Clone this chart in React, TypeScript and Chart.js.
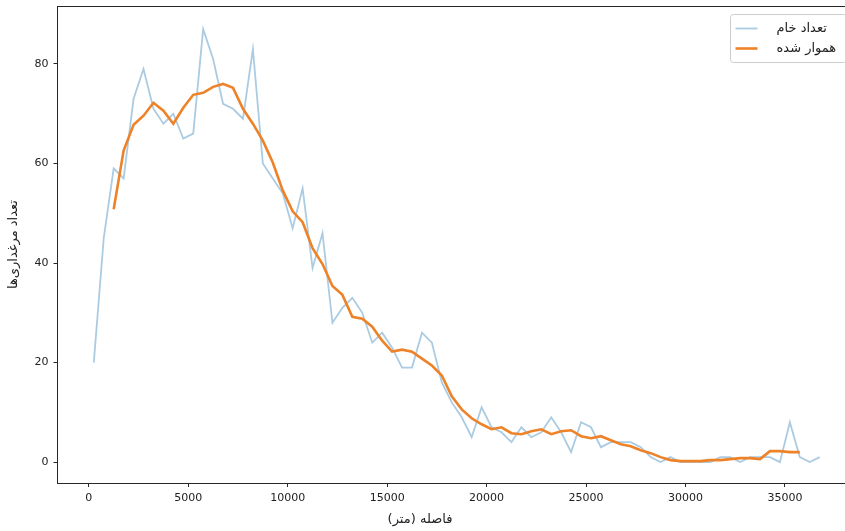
import React, { useEffect, useRef } from "react";
import { Chart, registerables } from "chart.js";

Chart.register(...registerables);

// Distance bins (metres), centre of each 500 m bin
const distances = [
  250, 750, 1250, 1750, 2250, 2750, 3250, 3750, 4250, 4750,
  5250, 5750, 6250, 6750, 7250, 7750, 8250, 8750, 9250, 9750,
  10250, 10750, 11250, 11750, 12250, 12750, 13250, 13750, 14250, 14750,
  15250, 15750, 16250, 16750, 17250, 17750, 18250, 18750, 19250, 19750,
  20250, 20750, 21250, 21750, 22250, 22750, 23250, 23750, 24250, 24750,
  25250, 25750, 26250, 26750, 27250, 27750, 28250, 28750, 29250, 29750,
  30250, 30750, 31250, 31750, 32250, 32750, 33250, 33750, 34250, 34750,
  35250, 35750, 36250, 36750,
];

// Raw counts
const rawCounts = [
  20, 45, 59, 57, 73, 79, 71, 68, 70, 65,
  66, 87, 81, 72, 71, 69, 83, 60, 57, 54,
  47, 55, 39, 46, 28, 31, 33, 30, 24, 26,
  23, 19, 19, 26, 24, 16, 12, 9, 5, 11,
  7, 6, 4, 7, 5, 6, 9, 6, 2, 8,
  7, 3, 4, 4, 4, 3, 1, 0, 1, 0,
  0, 0, 0, 1, 1, 0, 1, 1, 1, 0,
  8, 1, 0, 1,
];

// Smoothed curve (starts at 1250 m, ends at 35750 m)
const smoothDistances = distances.slice(2, 72);
const smoothCounts = [
  50.8, 62.6, 67.8, 69.6, 72.2, 70.6, 68.0, 71.2, 73.8, 74.2,
  75.4, 76.0, 75.2, 71.0, 68.0, 64.6, 60.2, 54.6, 50.4, 48.2,
  43.0, 39.8, 35.4, 33.6, 29.2, 28.8, 27.2, 24.4, 22.2, 22.6,
  22.2, 20.8, 19.4, 17.4, 13.2, 10.6, 8.8, 7.6, 6.6, 7.0,
  5.8, 5.6, 6.2, 6.6, 5.6, 6.2, 6.4, 5.2, 4.8, 5.2,
  4.4, 3.6, 3.2, 2.4, 1.8, 1.0, 0.4, 0.2, 0.2, 0.2,
  0.4, 0.4, 0.6, 0.8, 0.8, 0.6, 2.2, 2.2, 2.0, 2.0,
];

const xTicks = [0, 5000, 10000, 15000, 20000, 25000, 30000, 35000];
const yTicks = [0, 20, 40, 60, 80];

const rawLabel = "تعداد خام";
const smoothLabel = "هموار شده";
const xTitle = "فاصله (متر)";
const yTitle = "تعداد مرغداری‌ها";

const RAW_COLOR = "rgba(31,119,180,0.38)";
const SMOOTH_COLOR = "#ee8228";
const AXIS_COLOR = "#262626";
const TICK_FONT = { family: "DejaVu Sans", size: 11 };
const TEXT_FONT = "13px 'DejaVu Sans'";

const decorPlugin = {
  id: "decor",
  afterDraw(chart: any) {
    const { ctx, chartArea: a } = chart;
    ctx.save();
    // spines
    ctx.strokeStyle = AXIS_COLOR;
    ctx.lineWidth = 1;
    const l = Math.floor(a.left) + 0.5;
    const t = Math.floor(a.top) + 0.5;
    const r = Math.floor(a.right) + 0.5;
    const b = Math.floor(a.bottom) + 0.5;
    ctx.strokeRect(l, t, r - l, b - t);

    // legend
    const bx = a.right - 125.5;
    const by = a.top + 8.5;
    const bw = 116;
    const bh = 48;
    ctx.beginPath();
    ctx.roundRect(bx, by, bw, bh, 3);
    ctx.fillStyle = "rgba(255,255,255,0.8)";
    ctx.fill();
    ctx.strokeStyle = "#cccccc";
    ctx.lineWidth = 1;
    ctx.stroke();

    const hx0 = bx + 5;
    const hx1 = bx + 27;
    const row1 = by + 14;
    const row2 = by + 34;
    ctx.lineCap = "butt";
    ctx.strokeStyle = RAW_COLOR;
    ctx.lineWidth = 1.8;
    ctx.beginPath();
    ctx.moveTo(hx0, row1);
    ctx.lineTo(hx1, row1);
    ctx.stroke();
    ctx.strokeStyle = SMOOTH_COLOR;
    ctx.lineWidth = 2.6;
    ctx.beginPath();
    ctx.moveTo(hx0, row2);
    ctx.lineTo(hx1, row2);
    ctx.stroke();

    ctx.fillStyle = "#222";
    ctx.font = TEXT_FONT;
    ctx.direction = "rtl";
    ctx.textAlign = "left";
    ctx.textBaseline = "middle";
    ctx.fillText(rawLabel, bx + 46, row1);
    ctx.fillText(smoothLabel, bx + 46, row2);

    // axis titles
    ctx.textAlign = "center";
    ctx.fillText(xTitle, 420, 520);
    ctx.save();
    ctx.translate(14, (a.top + a.bottom) / 2);
    ctx.rotate(-Math.PI / 2);
    ctx.fillText(yTitle, 0, 0);
    ctx.restore();
    ctx.restore();
  },
};

export default function App() {
  const canvasRef = useRef<HTMLCanvasElement | null>(null);

  useEffect(() => {
    const canvas = canvasRef.current;
    if (!canvas) return;
    const chart = new Chart(canvas, {
      type: "line",
      data: {
        datasets: [
          {
            label: rawLabel,
            data: distances.map((x, i) => ({ x, y: rawCounts[i] })),
            borderColor: RAW_COLOR,
            borderWidth: 1.8,
            pointRadius: 0,
            tension: 0,
            fill: false,
            order: 2,
          },
          {
            label: smoothLabel,
            data: smoothDistances.map((x, i) => ({ x, y: smoothCounts[i] })),
            borderColor: SMOOTH_COLOR,
            borderWidth: 2.6,
            pointRadius: 0,
            tension: 0,
            fill: false,
            order: 1,
          },
        ],
      },
      options: {
        responsive: false,
        animation: false,
        devicePixelRatio: 1,
        layout: { padding: { top: 6, right: 4, left: 0, bottom: 0 } },
        plugins: {
          legend: { display: false },
          tooltip: { enabled: false },
          title: { display: false },
        },
        scales: {
          x: {
            type: "linear",
            min: -1575,
            max: 38575,
            afterBuildTicks: (s: any) => {
              s.ticks = xTicks.map((v) => ({ value: v }));
            },
            afterFit: (s: any) => {
              s.height = 48;
              s.paddingLeft = 0;
              s.paddingRight = 0;
            },
            grid: {
              drawOnChartArea: false,
              drawTicks: true,
              tickLength: 4,
              color: AXIS_COLOR,
              lineWidth: 1,
            },
            border: { display: false },
            ticks: {
              color: "#222",
              font: TICK_FONT,
              padding: 5,
              maxRotation: 0,
              autoSkip: false,
              callback: (v: any) => String(v),
            },
          },
          y: {
            type: "linear",
            min: -4.2,
            max: 91.65,
            afterBuildTicks: (s: any) => {
              s.ticks = yTicks.map((v) => ({ value: v }));
            },
            afterFit: (s: any) => {
              s.width = 57.5;
              s.paddingTop = 0;
              s.paddingBottom = 0;
            },
            grid: {
              drawOnChartArea: false,
              drawTicks: true,
              tickLength: 4,
              color: AXIS_COLOR,
              lineWidth: 1,
            },
            border: { display: false },
            ticks: {
              color: "#222",
              font: TICK_FONT,
              padding: 5,
              autoSkip: false,
              callback: (v: any) => String(v),
            },
          },
        },
      },
      plugins: [decorPlugin],
    });
    return () => chart.destroy();
  }, []);

  return (
    <div style={{ position: "fixed", left: 0, top: 0, width: 860, height: 531, background: "#fff" }}>
      <canvas ref={canvasRef} width={860} height={531} style={{ display: "block" }} />
    </div>
  );
}
